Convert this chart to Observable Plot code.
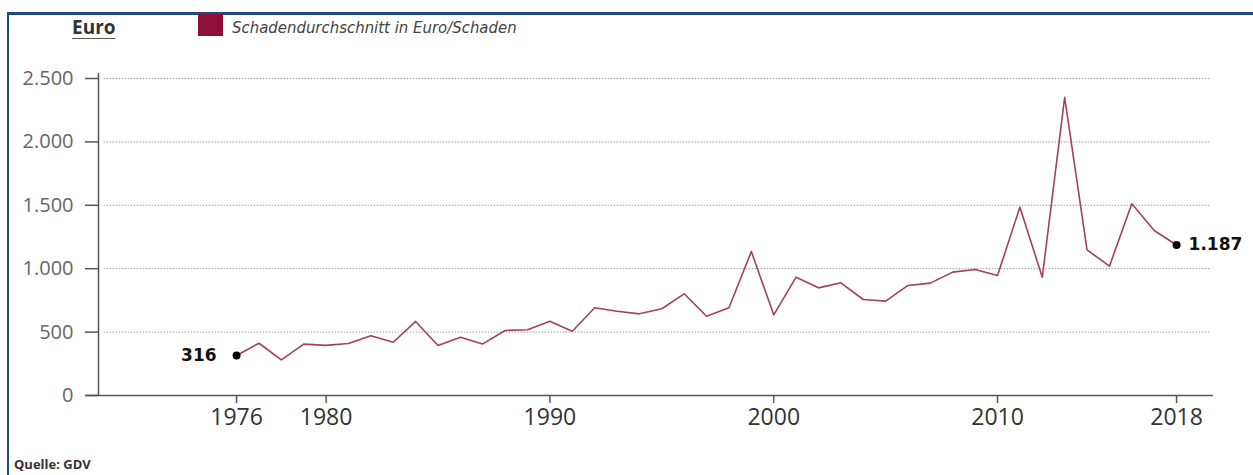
<!DOCTYPE html>
<html><head><meta charset="utf-8">
<script src="https://cdn.jsdelivr.net/npm/d3@7"></script>
<script src="https://cdn.jsdelivr.net/npm/@observablehq/plot@0.6"></script>
<style>
body{margin:0;background:#fff;}
#wrap{position:relative;width:1253px;height:475px;overflow:hidden;font-family:"Open Sans",sans-serif;}
#frame{position:absolute;left:7px;top:12px;width:1300px;height:500px;border-top:3px solid #1f4a85;border-left:2px solid #1f4a85;}
#plot{position:absolute;left:0;top:0;}
#unit{position:absolute;left:72px;top:14px;font:bold 19px "Open Sans",sans-serif;line-height:26px;color:#333;text-decoration:underline;text-decoration-color:#555;text-underline-offset:4px;}
#sw{position:absolute;left:198px;top:14px;width:25px;height:22px;background:#8c1038;}
#leg{position:absolute;left:232px;top:15px;font:italic 16.6px "Liberation Sans Narrow","DejaVu Sans Condensed",sans-serif;line-height:26px;color:#444;}
#src{position:absolute;left:14px;top:456px;font:bold 13px "Open Sans",sans-serif;line-height:17px;color:#333;}
</style></head>
<body>
<div id="wrap">
<div id="frame"></div>
<div id="plot"></div>
<div id="unit">Euro</div>
<div id="sw"></div>
<div id="leg">Schadendurchschnitt in Euro/Schaden</div>
<div id="src">Quelle: GDV</div>
</div>
<script>
const years = [1976,1977,1978,1979,1980,1981,1982,1983,1984,1985,1986,1987,1988,1989,1990,1991,1992,1993,1994,1995,1996,1997,1998,1999,2000,2001,2002,2003,2004,2005,2006,2007,2008,2009,2010,2011,2012,2013,2014,2015,2016,2017,2018];
const values = [316,412,281,405,395,410,471,420,584,394,460,407,513,518,585,507,692,665,644,684,802,625,692,1135,636,933,849,889,757,744,868,886,973,994,946,1485,933,2352,1149,1020,1512,1301,1187];
const yTicks = [0,500,1000,1500,2000,2500];
const xTicks = [1976,1980,1990,2000,2010,2018];
const endLabels = [{year:1976,value:316,label:"316",side:"left"},{year:2018,value:1187,label:"1.187",side:"right"}];

const data = years.map((y,i)=>({year:y,value:values[i]}));
const de = d3.formatLocale({decimal:",",thousands:".",grouping:[3],currency:["","€"]});
const fmt = de.format(",d");
const xMin = 1969.83, xMax = 2019.65;

const chart = Plot.plot({
  width:1253, height:475,
  marginLeft:98, marginRight:40, marginTop:78, marginBottom:80,
  style:{background:"transparent"},
  x:{domain:[xMin,xMax]},
  y:{domain:[0,2500]},
  marks:[
    Plot.ruleY(yTicks.filter(d=>d>0),{x1:xMin+0.25,x2:xMax-0.1,stroke:"#999",strokeWidth:1,strokeDasharray:"1.5,1.5"}),
    Plot.axisY({ticks:yTicks,tickSize:13,tickPadding:12,tickFormat:fmt,fontSize:20,fill:"#666",stroke:"#555",strokeWidth:1.5,strokeOpacity:1,label:null,fontFamily:"Open Sans"}),
    Plot.axisX({ticks:xTicks,tickSize:8,tickPadding:5,tickFormat:d=>String(d),fontSize:23,fill:"#333",stroke:"#555",strokeWidth:1.5,strokeOpacity:1,label:null,fontFamily:"Open Sans"}),
    Plot.ruleX([xMin],{y1:0,y2:2540,stroke:"#555",strokeWidth:1.5}),
    Plot.ruleY([0],{x1:xMin-0.55,x2:xMax,stroke:"#555",strokeWidth:1.5}),
    Plot.line(data,{x:"year",y:"value",stroke:"#a3405f",strokeWidth:1.6}),
    Plot.dot(endLabels,{x:"year",y:"value",r:4,fill:"#000"}),
    Plot.text(endLabels.filter(d=>d.side==="left"),{x:"year",y:"value",text:"label",textAnchor:"end",dx:-20,fontSize:17,fontWeight:"bold",fill:"#111",fontFamily:"DejaVu Sans"}),
    Plot.text(endLabels.filter(d=>d.side==="right"),{x:"year",y:"value",text:"label",textAnchor:"start",dx:12,fontSize:17,fontWeight:"bold",fill:"#111",fontFamily:"DejaVu Sans"})
  ]
});
document.getElementById("plot").appendChild(chart);
</script>
</body></html>
